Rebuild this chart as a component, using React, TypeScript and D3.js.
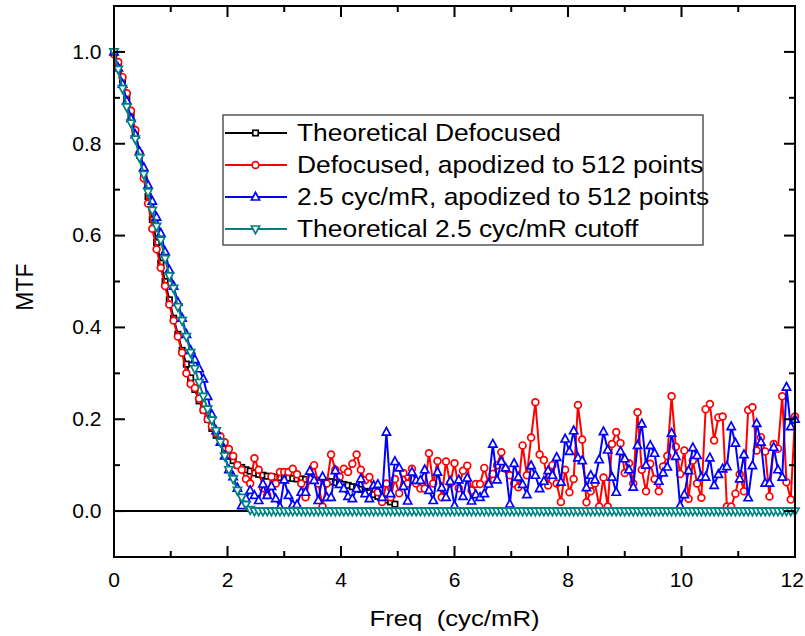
import React from "react";
import * as d3 from "d3";

// frequency grid spacing (cyc/mR) of the sampled MTF curves
const freqStep = 0.075;

const theoreticalDefocused = [
  1.0, 0.975, 0.94, 0.9, 0.86, 0.82, 0.775, 0.73, 0.685, 0.635, 0.585, 0.54, 0.5, 0.46, 0.42, 0.385,
  0.35, 0.32, 0.29, 0.265, 0.24, 0.22, 0.2, 0.18, 0.165, 0.15, 0.135, 0.12, 0.11, 0.1, 0.095, 0.09,
  0.087, 0.083, 0.08, 0.078, 0.076, 0.075, 0.074, 0.073, 0.072, 0.072, 0.071, 0.07, 0.07, 0.069, 0.068,
  0.067, 0.067, 0.066, 0.065, 0.064, 0.062, 0.06, 0.058, 0.056, 0.053, 0.05, 0.047, 0.043, 0.04, 0.036,
  0.032, 0.028, 0.024, 0.02, 0.015,
];

const defocusedApodized = [
  0.995, 0.978, 0.945, 0.91, 0.872, 0.83, 0.78, 0.725, 0.67, 0.615, 0.57, 0.53, 0.49, 0.45, 0.415, 0.38,
  0.345, 0.3, 0.277, 0.268, 0.245, 0.22, 0.2, 0.185, 0.17, 0.163, 0.15, 0.135, 0.12, 0.1, 0.09, 0.07,
  0.06, 0.115, 0.09, 0.05, 0.035, 0.075, 0.06, 0.085, 0.085, 0.085, 0.092, 0.08, 0.06, 0.03, 0.07, 0.1,
  0.06, 0.01, 0.06, 0.123, 0.09, 0.075, 0.092, 0.085, 0.103, 0.123, 0.09, 0.067, 0.074, 0.05, 0.041, 0.02,
  0.06, 0.03, 0.07, 0.039, 0.083, 0.06, 0.092, 0.06, 0.049, 0.049, 0.126, 0.06, 0.109, 0.03, 0.108, 0.06,
  0.104, 0.05, 0.088, 0.099, 0.045, 0.059, 0.059, 0.094, 0.06, 0.081, 0.1, 0.128, 0.092, 0.078, 0.06, 0.052,
  0.143, 0.078, 0.16, 0.237, 0.123, 0.111, 0.056, 0.1, 0.06, 0.02, 0.09, 0.041, 0.07, 0.231, 0.156, 0.019,
  0.043, 0.06, 0.01, 0.073, 0.01, 0.146, 0.172, 0.148, 0.083, 0.104, 0.06, 0.215, 0.09, 0.043, 0.103, 0.07,
  0.043, 0.097, 0.12, 0.25, 0.14, 0.081, 0.132, 0.027, 0.11, 0.06, 0.029, 0.222, 0.233, 0.154, 0.204, 0.206,
  0.01, 0.01, 0.038, 0.08, 0.043, 0.22, 0.226, 0.132, 0.161, 0.13, 0.032, 0.146, 0.136, 0.25, 0.063, 0.025,
  0.206,
];

const cutoffApodized = [
  1.0, 0.965, 0.93, 0.893, 0.855, 0.82, 0.783, 0.748, 0.71, 0.675, 0.64, 0.605, 0.565, 0.525, 0.49, 0.455,
  0.42, 0.385, 0.35, 0.33, 0.31, 0.288, 0.25, 0.21, 0.175, 0.15, 0.12, 0.09, 0.075, 0.05, 0.012, 0.027,
  0.045, 0.034, 0.023, 0.059, 0.034, 0.054, 0.027, 0.009, 0.068, 0.034, 0.014, 0.014, 0.041, 0.041, 0.087,
  0.067, 0.023, 0.075, 0.03, 0.03, 0.088, 0.058, 0.049, 0.032, 0.027, 0.049, 0.07, 0.038, 0.027, 0.056,
  0.058, 0.03, 0.172, 0.038, 0.108, 0.094, 0.054, 0.022, 0.085, 0.067, 0.067, 0.09, 0.045, 0.023, 0.085,
  0.051, 0.03, 0.065, 0.012, 0.068, 0.032, 0.072, 0.022, 0.036, 0.03, 0.038, 0.059, 0.146, 0.068, 0.108,
  0.094, 0.015, 0.104, 0.074, 0.058, 0.036, 0.099, 0.078, 0.049, 0.065, 0.088, 0.078, 0.117, 0.063, 0.157,
  0.13, 0.175, 0.116, 0.11, 0.051, 0.078, 0.068, 0.112, 0.173, 0.133, 0.074, 0.041, 0.13, 0.114, 0.09,
  0.052, 0.143, 0.19, 0.1, 0.143, 0.126, 0.065, 0.083, 0.096, 0.17, 0.119, 0.012, 0.036, 0.088, 0.138,
  0.121, 0.074, 0.074, 0.116, 0.056, 0.08, 0.092, 0.097, 0.184, 0.148, 0.07, 0.123, 0.029, 0.099, 0.191,
  0.15, 0.061, 0.061, 0.139, 0.09, 0.074, 0.27, 0.184, 0.2,
];

const theoreticalCutoff = [
  1.0, 0.962, 0.92, 0.88, 0.845, 0.81, 0.77, 0.733, 0.695, 0.655, 0.62, 0.59, 0.55, 0.512, 0.485, 0.445,
  0.415, 0.38, 0.345, 0.31, 0.28, 0.25, 0.222, 0.198, 0.175, 0.15, 0.12, 0.09, 0.07, 0.045, 0.03, 0.014,
  0.003,
  0, 0, 0, 0, 0, 0, 0, 0, 0, 0, 0, 0, 0, 0, 0, 0, 0, 0, 0, 0, 0, 0, 0, 0, 0, 0, 0, 0, 0, 0, 0, 0,
  0, 0, 0, 0, 0, 0, 0, 0, 0, 0, 0, 0, 0, 0, 0, 0, 0, 0, 0, 0, 0, 0, 0, 0, 0, 0, 0, 0, 0, 0, 0, 0,
  0, 0, 0, 0, 0, 0, 0, 0, 0, 0, 0, 0, 0, 0, 0, 0, 0, 0, 0, 0, 0, 0, 0, 0, 0, 0, 0, 0, 0, 0, 0, 0,
  0, 0, 0, 0, 0, 0, 0, 0, 0, 0, 0, 0, 0, 0, 0, 0, 0, 0, 0, 0, 0, 0, 0, 0, 0, 0, 0, 0, 0, 0, 0, 0,
];

const xMajorTicks = [0, 2, 4, 6, 8, 10, 12];
const xMinorTicks = [1, 3, 5, 7, 9, 11];
const yMajorTicks = [0, 0.2, 0.4, 0.6, 0.8, 1.0];
const yMinorTicks = [0.1, 0.3, 0.5, 0.7, 0.9];

const seriesNames = [
  "Theoretical Defocused",
  "Defocused, apodized to 512 points",
  "2.5 cyc/mR, apodized to 512 points",
  "Theoretical 2.5 cyc/mR cutoff",
];
const seriesColors = ["#000000", "#ff0000", "#0000ff", "#008080"];
const seriesMarkers = ["square", "circle", "up", "down"];
const seriesData = [theoreticalDefocused, defocusedApodized, cutoffApodized, theoreticalCutoff];

const FONT = "'Liberation Sans', Arial, Helvetica, sans-serif";

function Marker({ type, cx, cy, color }: { type: string; cx: number; cy: number; color: string }) {
  const sw = 1.7;
  if (type === "square") {
    return <rect x={cx - 2.7} y={cy - 2.7} width={5.4} height={5.4} fill="#fff" stroke={color} strokeWidth={sw} />;
  }
  if (type === "circle") {
    return <circle cx={cx} cy={cy} r={3.4} fill="#fff" stroke={color} strokeWidth={sw} />;
  }
  if (type === "up") {
    const p = `${cx},${cy - 4.6} ${cx + 4.1},${cy + 3} ${cx - 4.1},${cy + 3}`;
    return <polygon points={p} fill="#fff" stroke={color} strokeWidth={sw} strokeLinejoin="miter" />;
  }
  const p = `${cx},${cy + 4.6} ${cx + 4.1},${cy - 3} ${cx - 4.1},${cy - 3}`;
  return <polygon points={p} fill="#fff" stroke={color} strokeWidth={sw} strokeLinejoin="miter" />;
}

export default function App() {
  const W = 805;
  const H = 636;
  const left = 114, right = 795, top = 6, bottom = 557;
  const x = d3.scaleLinear().domain([0, 12]).range([left, right]);
  const y = d3.scaleLinear().domain([-0.1, 1.1]).range([bottom, top]);

  const line = d3
    .line<number>()
    .x((_, i) => x(i * freqStep))
    .y((d) => y(d));

  const majorLen = 11;
  const minorLen = 6;
  const stretch = 1.08;

  const legendX = 223, legendY = 115, legendW = 480, legendH = 130;
  const rowY = [133, 165, 197, 229];

  return (
    <svg
      width={W}
      height={H}
      viewBox={`0 0 ${W} ${H}`}
      style={{ position: "absolute", left: 0, top: 0, background: "#fff" }}
      fontFamily={FONT}
    >
      <rect x={0} y={0} width={W} height={H} fill="#fff" />

      {/* zero reference line */}
      <line x1={x(0)} x2={x(12)} y1={y(0)} y2={y(0)} stroke="#000" strokeWidth={2} />

      {/* series */}
      {seriesData.map((data, s) => (
        <g key={s}>
          <path d={line(data) || ""} fill="none" stroke={seriesColors[s]} strokeWidth={2} strokeLinejoin="round" />
          {data.map((v, i) => (
            <Marker key={i} type={seriesMarkers[s]} cx={x(i * freqStep)} cy={y(v)} color={seriesColors[s]} />
          ))}
        </g>
      ))}

      {/* frame */}
      <rect x={left} y={top} width={right - left} height={bottom - top} fill="none" stroke="#000" strokeWidth={2} />

      {/* x ticks (bottom & top, inward) */}
      {xMajorTicks.map((t, k) => {
        const last = k === xMajorTicks.length - 1;
        return (
          <g key={"xm" + t}>
            <line x1={x(t)} x2={x(t)} y1={bottom} y2={bottom - majorLen} stroke="#000" strokeWidth={2} />
            <line x1={x(t)} x2={x(t)} y1={top} y2={top + majorLen} stroke="#000" strokeWidth={2} />
            <text
              transform={`translate(${last ? 804 : x(t)},587) scale(${stretch},1)`}
              textAnchor={last ? "end" : "middle"}
              fontSize={19.5}
              fill="#000"
            >
              {t}
            </text>
          </g>
        );
      })}
      {xMinorTicks.map((t) => (
        <g key={"xn" + t}>
          <line x1={x(t)} x2={x(t)} y1={bottom} y2={bottom - minorLen} stroke="#000" strokeWidth={2} />
          <line x1={x(t)} x2={x(t)} y1={top} y2={top + minorLen} stroke="#000" strokeWidth={2} />
        </g>
      ))}

      {/* y ticks (left & right, inward) */}
      {yMajorTicks.map((t) => (
        <g key={"ym" + t}>
          <line x1={left} x2={left + majorLen} y1={y(t)} y2={y(t)} stroke="#000" strokeWidth={2} />
          <line x1={right} x2={right - majorLen} y1={y(t)} y2={y(t)} stroke="#000" strokeWidth={2} />
          <text
            transform={`translate(101.5,${y(t) + 6.8}) scale(${stretch},1)`}
            textAnchor="end"
            fontSize={19.5}
            fill="#000"
          >
            {t.toFixed(1)}
          </text>
        </g>
      ))}
      {yMinorTicks.map((t) => (
        <g key={"yn" + t}>
          <line x1={left} x2={left + minorLen} y1={y(t)} y2={y(t)} stroke="#000" strokeWidth={2} />
          <line x1={right} x2={right - minorLen} y1={y(t)} y2={y(t)} stroke="#000" strokeWidth={2} />
        </g>
      ))}

      {/* axis titles */}
      <text
        transform={`translate(${(left + right) / 2},626) scale(1.12,1)`}
        textAnchor="middle"
        fontSize={23}
        fill="#000"
        style={{ whiteSpace: "pre" }}
      >
        {"Freq  (cyc/mR)"}
      </text>
      <text transform={`translate(33,287) rotate(-90)`} textAnchor="middle" fontSize={23} fill="#000">
        MTF
      </text>

      {/* legend */}
      <rect x={legendX} y={legendY} width={legendW} height={legendH} fill="#fff" stroke="#555" strokeWidth={1.5} />
      {seriesNames.map((name, s) => (
        <g key={"lg" + s}>
          <line x1={legendX + 2} x2={287} y1={rowY[s]} y2={rowY[s]} stroke={seriesColors[s]} strokeWidth={2} />
          <Marker type={seriesMarkers[s]} cx={255.5} cy={rowY[s]} color={seriesColors[s]} />
          <text
            transform={`translate(297,${rowY[s] + 8}) scale(1.1,1)`}
            fontSize={24}
            fill="#000"
          >
            {name}
          </text>
        </g>
      ))}
    </svg>
  );
}
